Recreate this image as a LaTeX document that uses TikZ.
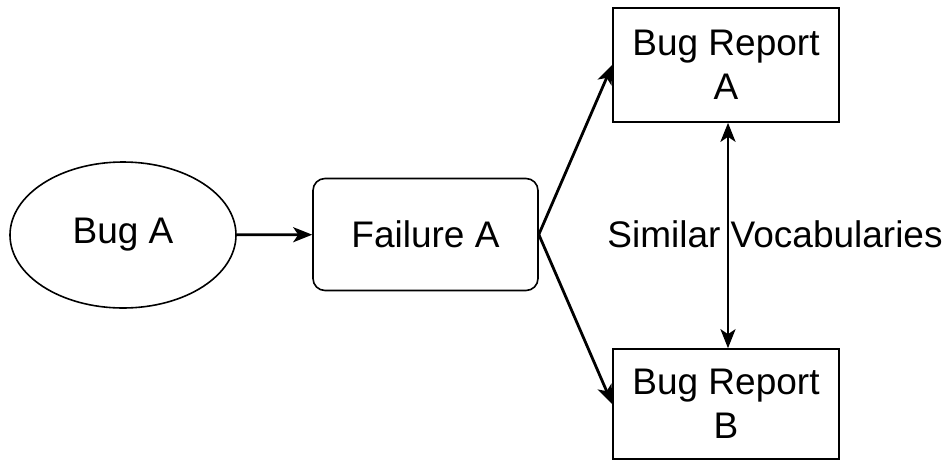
\documentclass[tikz,border=0pt]{standalone}
\usepackage{fontspec}
\setmainfont{Liberation Sans}
\usetikzlibrary{arrows.meta,shapes.geometric}
\begin{document}
\begin{tikzpicture}[x=1pt,y=-1pt,
  every node/.style={font=\fontsize{37}{44}\selectfont, align=center, inner sep=0pt},
  box/.style={draw, line width=1.6pt},
  tip/.tip={Stealth[length=19pt,width=15pt,inset=5pt]},
  conn/.style={line width=2.8pt, -tip}]
\useasboundingbox (0,0) rectangle (949,461);
\node[box, ellipse, minimum width=226pt, minimum height=146pt] (bug) at (123,235) {\raisebox{-3pt}{Bug A}};
\node[box, rounded corners=12pt, minimum width=225pt, minimum height=112pt] (fail) at (425.5,234.5) {\raisebox{-3pt}{Failure A}};
\node[box, minimum width=226pt, minimum height=114pt] (ra) at (726,65) {Bug Report\\A};
\node[box, minimum width=226pt, minimum height=110pt] (rb) at (726,404) {Bug Report\\B};
\node (lab) at (775,234) {Similar Vocabularies};
\draw[conn] (bug) -- (fail);
\draw[conn] (fail.east) -- (ra.west);
\draw[conn] (fail.east) -- (rb.west);
\draw[conn, tip-tip] (ra.south -| 728,0) -- (rb.north -| 728,0);
\end{tikzpicture}
\end{document}
